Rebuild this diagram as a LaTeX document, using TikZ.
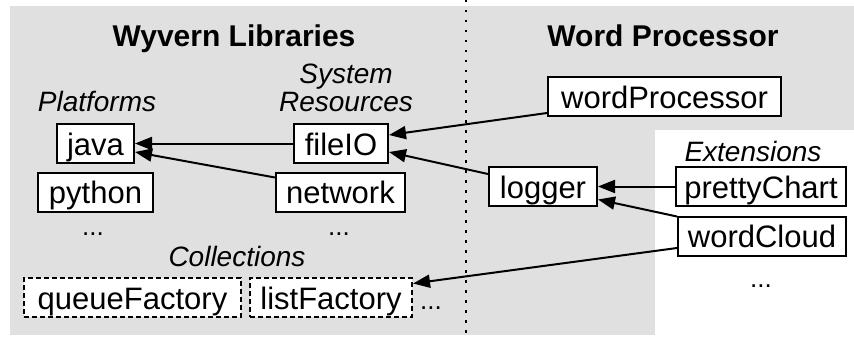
\documentclass[tikz,border=0pt]{standalone}
\usepackage{fontspec}
\setmainfont{Liberation Sans}
\usetikzlibrary{arrows.meta,calc}
\definecolor{bggray}{RGB}{224,224,224}
\tikzset{
  box/.style={draw, line width=2pt, fill=white, inner sep=0pt, minimum height=39pt,
    text height=25pt, text depth=2pt, font=\fontsize{31}{36}\selectfont},
  dbox/.style={box, dash pattern=on 5pt off 3pt},
  lbl/.style={anchor=base, inner sep=0pt, font=\fontsize{28}{32}\selectfont\itshape},
  ttl/.style={anchor=base, inner sep=0pt, font=\fontsize{30}{36}\selectfont\bfseries},
  dots/.style={anchor=base, inner sep=0pt, font=\fontsize{26}{30}\selectfont},
  arr/.style={line width=2pt, -{Triangle[length=17pt,width=13pt]}},
}
\begin{document}
\begin{tikzpicture}[x=1pt,y=-1pt]
\useasboundingbox (0,0) rectangle (854,337);
\fill[bggray] (10,6) rectangle (854,335);
\fill[white] (655,130) rectangle (854,337);
\draw[line width=2pt, dash pattern=on 2.5pt off 7.5pt] (466,0) -- (466,337);

\node[ttl] (t1) at (234,47) {Wyvern Libraries};
\node[ttl] (t2) at (663,47) {Word Processor};

\node[lbl] (lplat) at (97,111) {Platforms};
\node[lbl] (lsys) at (346,83) {System};
\node[lbl] (lres) at (346,111) {Resources};
\node[lbl] (lcoll) at (237,266) {Collections};
\node[lbl] (lext) at (753,161) {Extensions};

\node[box, minimum width=77pt] (java) at (95.5,143.5) {java};
\node[box, minimum width=94pt] (fileIO) at (341,143.5) {fileIO};
\node[box, minimum width=115pt] (python) at (95.5,192) {python};
\node[box, minimum width=129pt] (network) at (340.5,192) {network};
\node[dots] (d1) at (93,235) {...};
\node[dots] (d2) at (339,235) {...};
\node[dbox, minimum width=217pt] (queue) at (132.5,297.5) {queueFactory};
\node[dbox, minimum width=162pt] (list) at (331,297.5) {listFactory};
\node[dots] (d3) at (431,309) {...};

\node[box, minimum width=233pt] (wp) at (664.5,96.5) {wordProcessor};
\node[box, minimum width=108pt] (logger) at (543,186.5) {logger};
\node[box, minimum width=170pt] (pretty) at (761,186.5) {prettyChart};
\node[box, minimum width=168pt] (cloud) at (762,236) {wordCloud};
\node[dots] (d4) at (761,287) {...};

\draw[arr] (fileIO.west) -- (java.east);
\draw[arr] ($(network.north west)+(0,6)$) -- ($(java.east)+(0,8.5)$);
\draw[arr] ($(wp.south west)+(0,-4)$) -- ($(fileIO.east)+(0,-8.5)$);
\draw[arr] ($(logger.north west)+(0,8)$) -- ($(fileIO.east)+(0,8.5)$);
\draw[arr] (pretty.west) -- (logger.east);
\draw[arr] ($(cloud.north west)+(0,1)$) -- ($(logger.east)+(0,13)$);
\draw[arr] ($(cloud.west)+(0,12)$) -- ($(list.east)+(0,-14)$);
\end{tikzpicture}
\end{document}
